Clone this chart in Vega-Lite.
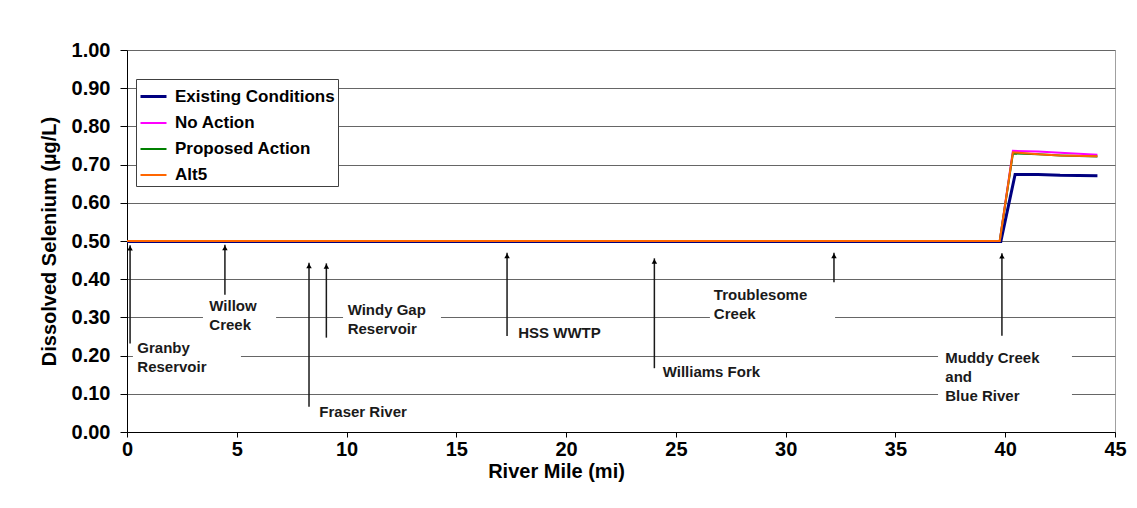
{
  "$schema": "https://vega.github.io/schema/vega-lite/v6.json",
  "width": 988,
  "height": 382,
  "autosize": "none",
  "padding": {"left": 127, "top": 50, "right": 22, "bottom": 76},
  "background": "white",
  "config": {
    "font": "Liberation Sans",
    "view": {"stroke": "#a0a0a0", "strokeWidth": 1},
    "axis": {
      "labelFont": "Liberation Sans",
      "labelFontWeight": "bold",
      "labelFontSize": 20,
      "labelColor": "#000000",
      "titleFont": "Liberation Sans",
      "titleFontWeight": "bold",
      "titleFontSize": 20,
      "titleColor": "#000000",
      "domainColor": "#000000",
      "domainWidth": 1,
      "tickColor": "#000000",
      "tickWidth": 1
    }
  },
  "datasets": {
    "series": [
      {"series": "Existing Conditions", "mile": 0, "val": 0.499},
      {"series": "Existing Conditions", "mile": 39.8, "val": 0.499},
      {"series": "Existing Conditions", "mile": 40.45, "val": 0.674},
      {"series": "Existing Conditions", "mile": 41.5, "val": 0.674},
      {"series": "Existing Conditions", "mile": 42.5, "val": 0.672},
      {"series": "Existing Conditions", "mile": 44.2, "val": 0.671},
      {"series": "No Action", "mile": 0, "val": 0.5},
      {"series": "No Action", "mile": 39.75, "val": 0.5},
      {"series": "No Action", "mile": 40.35, "val": 0.736},
      {"series": "No Action", "mile": 41.5, "val": 0.734},
      {"series": "No Action", "mile": 42.5, "val": 0.731},
      {"series": "No Action", "mile": 44.2, "val": 0.726},
      {"series": "Proposed Action", "mile": 0, "val": 0.5},
      {"series": "Proposed Action", "mile": 39.75, "val": 0.5},
      {"series": "Proposed Action", "mile": 40.35, "val": 0.729},
      {"series": "Proposed Action", "mile": 41.5, "val": 0.727},
      {"series": "Proposed Action", "mile": 42.5, "val": 0.724},
      {"series": "Proposed Action", "mile": 44.2, "val": 0.721},
      {"series": "Alt5", "mile": 0, "val": 0.5},
      {"series": "Alt5", "mile": 39.75, "val": 0.5},
      {"series": "Alt5", "mile": 40.35, "val": 0.732},
      {"series": "Alt5", "mile": 41.5, "val": 0.727},
      {"series": "Alt5", "mile": 42.5, "val": 0.724},
      {"series": "Alt5", "mile": 44.2, "val": 0.722}
    ],
    "masks": [
      {"mile": 0.27, "mile2": 5.19, "val": 0.15, "val2": 0.24},
      {"mile": 3.46, "mile2": 6.79, "val": 0.26, "val2": 0.35},
      {"mile": 9.84, "mile2": 14.3, "val": 0.27, "val2": 0.34},
      {"mile": 26.55, "mile2": 32.25, "val": 0.29, "val2": 0.385},
      {"mile": 36.94, "mile2": 43.04, "val": 0.065, "val2": 0.23}
    ],
    "arrows": [
      {"mile": 0.14, "val": 0.232, "val2": 0.489},
      {"mile": 4.46, "val": 0.359, "val2": 0.49},
      {"mile": 8.29, "val": 0.066, "val2": 0.443},
      {"mile": 9.08, "val": 0.247, "val2": 0.4415},
      {"mile": 17.31, "val": 0.251, "val2": 0.469},
      {"mile": 24.02, "val": 0.167, "val2": 0.4547},
      {"mile": 32.2, "val": 0.392, "val2": 0.469},
      {"mile": 39.85, "val": 0.252, "val2": 0.468}
    ],
    "notes": [
      {"label": "Granby\nReservoir", "mile": 0.47, "val": 0.219},
      {"label": "Willow\nCreek", "mile": 3.75, "val": 0.33},
      {"label": "Fraser River", "mile": 8.76, "val": 0.052},
      {"label": "Windy Gap\nReservoir", "mile": 10.05, "val": 0.3186},
      {"label": "HSS WWTP", "mile": 17.82, "val": 0.258},
      {"label": "Williams Fork", "mile": 24.4, "val": 0.158},
      {"label": "Troublesome\nCreek", "mile": 26.73, "val": 0.3586},
      {"label": "Muddy Creek\nand\nBlue River", "mile": 37.27, "val": 0.193}
    ]
  },
  "encoding": {
    "x": {
      "field": "mile",
      "type": "quantitative",
      "title": "River Mile (mi)",
      "scale": {"domain": [0, 45], "nice": false, "zero": false},
      "axis": {
        "values": [0, 5, 10, 15, 20, 25, 30, 35, 40, 45],
        "grid": false,
        "tickSize": 5,
        "labelPadding": 2,
        "titlePadding": 2,
        "titleX": 429,
        "titleAlign": "center",
        "labelFlush": false
      }
    },
    "y": {
      "field": "val",
      "type": "quantitative",
      "title": "Dissolved Selenium (µg/L)",
      "scale": {"domain": [0, 1], "nice": false},
      "axis": {
        "values": [0, 0.1, 0.2, 0.3, 0.4, 0.5, 0.6, 0.7, 0.8, 0.9, 1.0],
        "format": ".2f",
        "grid": true,
        "gridColor": "#666666",
        "gridWidth": 1,
        "tickSize": 7,
        "labelPadding": 10,
        "titlePadding": 12
      }
    }
  },
  "layer": [
    {
      "data": {"name": "masks"},
      "mark": {"type": "rect", "fill": "white", "stroke": null},
      "encoding": {
        "x2": {"field": "mile2"},
        "y2": {"field": "val2"}
      }
    },
    {
      "data": {"name": "series"},
      "mark": {"type": "line", "interpolate": "linear"},
      "encoding": {
        "color": {
          "field": "series",
          "type": "nominal",
          "sort": null,
          "scale": {
            "domain": ["Existing Conditions", "No Action", "Proposed Action", "Alt5"],
            "range": ["#000080", "#FF00FF", "#008000", "#FF6600"]
          },
          "legend": {
            "title": null,
            "orient": "none",
            "legendX": 9,
            "legendY": 29,
            "fillColor": "white",
            "strokeColor": "#404040",
            "padding": 3,
            "rowPadding": 4,
            "symbolType": "stroke",
            "symbolSize": 676,
            "labelOffset": 7,
            "labelFont": "Liberation Sans",
            "labelFontSize": 17,
            "labelFontWeight": "bold",
            "labelColor": "#000000"
          }
        },
        "strokeWidth": {
          "field": "series",
          "type": "nominal",
          "scale": {
            "type": "ordinal",
            "domain": ["Existing Conditions", "No Action", "Proposed Action", "Alt5"],
            "range": [3, 2, 2, 2]
          },
          "legend": {
            "title": null,
            "orient": "none",
            "legendX": 9,
            "legendY": 29,
            "fillColor": "white",
            "strokeColor": "#404040",
            "padding": 3,
            "rowPadding": 4,
            "symbolType": "stroke",
            "symbolSize": 676,
            "labelOffset": 7,
            "labelFont": "Liberation Sans",
            "labelFontSize": 17,
            "labelFontWeight": "bold",
            "labelColor": "#000000"
          }
        }
      }
    },
    {
      "data": {"name": "arrows"},
      "mark": {"type": "rule", "color": "#1a1a1a", "strokeWidth": 1.5},
      "encoding": {
        "y2": {"field": "val2"}
      }
    },
    {
      "data": {"name": "arrows"},
      "mark": {"type": "point", "shape": "triangle-up", "filled": true, "color": "#000000", "size": 30, "yOffset": 3, "opacity": 1},
      "encoding": {
        "y": {"field": "val2", "type": "quantitative", "title": "Dissolved Selenium (µg/L)"}
      }
    },
    {
      "data": {"name": "notes"},
      "mark": {
        "type": "text",
        "align": "left",
        "baseline": "middle",
        "lineBreak": "\n",
        "lineHeight": 19,
        "font": "Liberation Sans",
        "fontSize": 15,
        "fontWeight": "bold",
        "color": "#1a1a1a"
      },
      "encoding": {
        "text": {"field": "label", "type": "nominal"}
      }
    }
  ]
}
